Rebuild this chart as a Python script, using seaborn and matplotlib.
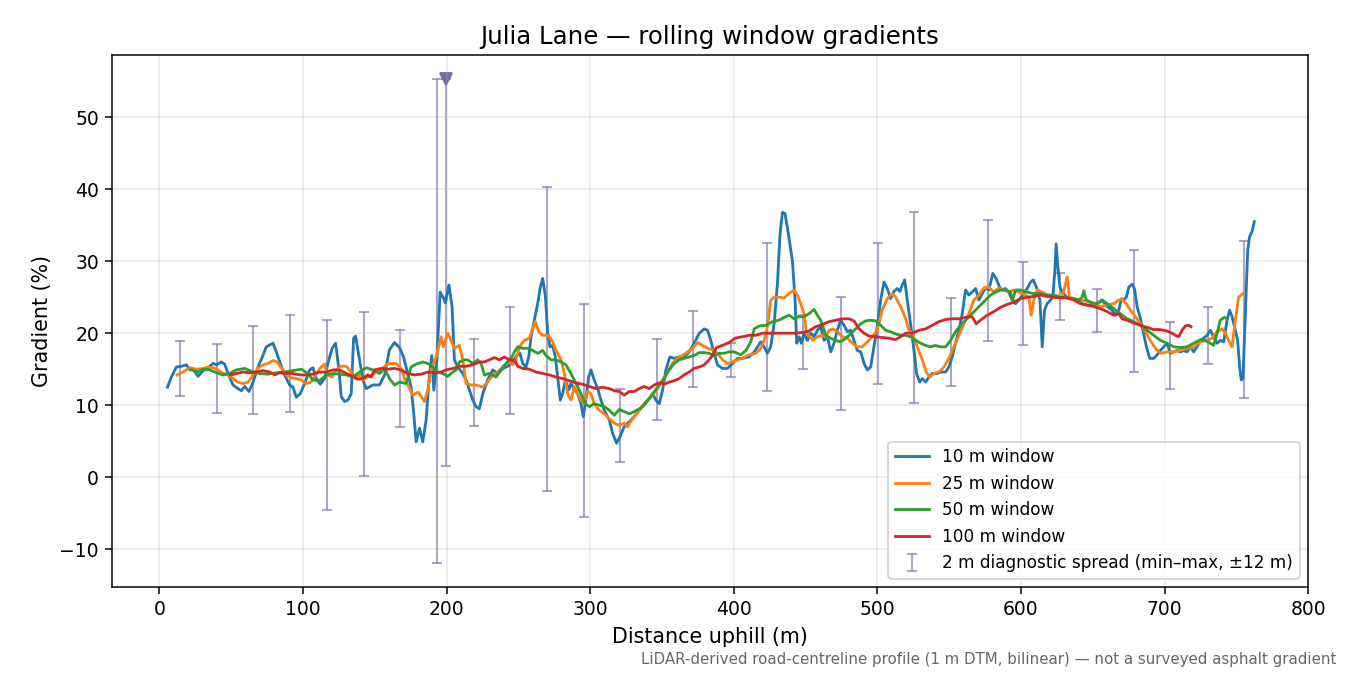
import numpy as np
import pandas as pd
import matplotlib
matplotlib.use('Agg')
import matplotlib.pyplot as plt
import seaborn as sns


# 10 m window gradient (%)
d10 = [5.6, 8.3, 11.8, 15.3, 18.8, 21.1, 23.4, 26.9, 30.4, 33.9, 37.3, 39.7, 43.1, 45.4, 47.8,
       51.2, 54.7, 57.0, 59.4, 62.4, 65.2, 68.6, 72.1, 74.4, 79.1, 81.4, 84.2, 87.2, 90.7, 93.0,
       95.3, 98.1, 101.1, 104.6, 106.9, 109.2, 112.0, 115.0, 117.3, 120.3, 122.7, 125.0, 126.6,
       128.9, 131.2, 133.6, 135.2, 136.6, 139.4, 141.7, 144.0, 148.6, 153.3, 156.8, 160.2, 163.7,
       167.2, 170.0, 172.3, 175.3, 176.9, 178.8, 181.1, 183.4, 185.7, 188.1, 189.7, 191.1, 193.2,
       195.5, 197.8, 199.2, 201.6, 203.8, 205.4, 207.8, 211.2, 213.6, 215.9, 218.2, 220.5, 222.8,
       225.2, 228.6, 232.1, 235.6, 239.1, 242.6, 246.0, 248.8, 251.1, 253.0, 255.3, 257.2, 258.8,
       261.1, 263.4, 265.3, 266.9, 268.8, 270.4, 272.0, 273.9, 275.7, 277.3, 279.2, 280.8, 282.7,
       285.0, 286.6, 288.9, 291.2, 293.6, 295.2, 297.0, 298.9, 300.5, 302.8, 305.2, 307.5, 309.8,
       313.3, 315.6, 318.4, 320.7, 323.7, 327.2, 330.7, 334.2, 337.6, 341.1, 343.4, 345.7, 348.1,
       350.4, 352.7, 355.5, 358.5, 362.0, 365.4, 368.9, 372.4, 375.9, 379.4, 381.7, 384.0, 386.3,
       388.6, 392.1, 395.6, 399.1, 402.6, 406.0, 410.7, 414.2, 416.5, 418.8, 421.1, 423.4, 425.7,
       428.1, 430.4, 432.2, 433.9, 435.7, 438.0, 440.8, 442.7, 443.8, 445.5, 447.1, 448.9, 451.3,
       453.6, 455.9, 458.2, 460.5, 462.9, 465.2, 467.5, 469.8, 472.1, 474.4, 476.8, 479.1, 481.4,
       483.7, 486.0, 488.4, 490.7, 493.0, 495.3, 497.6, 499.9, 502.3, 504.6, 506.9, 509.2, 511.5,
       513.9, 515.7, 517.3, 519.0, 520.8, 523.1, 525.5, 527.3, 529.4, 531.3, 533.6, 535.9, 538.2,
       541.7, 544.0, 547.5, 549.8, 552.1, 554.4, 556.8, 559.1, 561.4, 563.7, 566.0, 568.4, 570.7,
       573.0, 575.3, 577.6, 580.4, 582.7, 585.1, 586.9, 589.2, 591.5, 593.9, 596.2, 598.5, 602.0,
       604.3, 606.7, 608.5, 610.8, 613.2, 614.8, 616.4, 618.2, 620.6, 622.2, 623.6, 624.5, 625.7,
       627.1, 629.4, 632.2, 635.6, 639.1, 642.6, 646.1, 649.6, 653.0, 656.5, 660.0, 663.5, 665.8,
       668.1, 670.0, 671.6, 673.4, 675.1, 677.4, 679.0, 680.9, 683.2, 685.5, 687.4, 689.7, 692.5,
       694.8, 697.1, 699.4, 701.7, 704.0, 706.4, 708.7, 711.0, 713.3, 715.6, 718.0, 720.3, 722.6,
       724.9, 727.2, 729.6, 731.9, 734.2, 736.5, 738.8, 741.2, 743.5, 745.3, 747.0, 749.3, 750.9,
       752.3, 753.4, 754.6, 756.2, 757.9, 759.2, 760.9, 762.5]
g10 = [12.5, 13.9, 15.3, 15.4, 15.6, 14.9, 15.0, 14.0, 14.8, 15.2, 15.8, 15.6, 16.0, 15.7, 14.4,
       12.8, 12.3, 12.0, 12.6, 11.9, 13.2, 15.3, 16.9, 18.1, 18.6, 17.4, 15.8, 14.2, 12.8, 12.5,
       11.1, 11.6, 13.0, 14.9, 15.2, 13.7, 12.9, 13.7, 15.8, 17.9, 18.6, 14.9, 11.2,
       10.5, 10.7, 11.6, 19.3, 19.6, 16.3, 13.5, 12.3, 12.8, 12.8, 14.2, 17.7, 18.7,
       18.0, 16.7, 14.9, 12.5, 9.3, 4.9, 6.8, 4.9, 7.9, 14.4, 16.9, 12.1, 16.3,
       25.7, 24.9, 24.2, 26.7, 23.7, 16.3, 15.3, 14.4, 13.5, 12.1, 10.7, 9.8, 9.5,
       11.6, 13.5, 14.9, 14.4, 15.1, 15.4, 16.0, 16.9, 17.2, 15.8, 15.3, 16.7, 19.5,
       21.8, 24.1, 26.4, 27.6, 25.1, 20.0, 18.1, 18.3, 16.7, 13.9, 10.7, 11.6, 13.5,
       12.1, 13.0, 12.3, 11.6, 10.2, 8.4, 10.7, 13.9, 14.9, 13.5, 12.3, 10.7, 9.3,
       7.9, 6.1, 4.7, 5.6, 7.0, 7.7, 8.4, 9.3, 10.2, 10.9, 11.6, 10.7, 10.2,
       12.1, 14.9, 16.7, 16.5, 16.7, 16.7, 17.4, 18.6, 20.0, 20.6, 20.4, 19.0, 17.2,
       15.6, 15.1, 15.1, 15.8, 16.5, 16.5, 16.7, 17.4, 18.1, 18.8, 18.1, 17.2, 18.1,
       21.3, 26.9, 33.8, 36.8, 36.6, 33.8, 30.1, 24.6, 18.6, 19.5, 18.6, 20.0, 19.0,
       20.0, 19.5, 20.4, 20.9, 19.0, 19.5, 17.4, 18.6, 20.4, 21.8, 21.1, 20.2, 20.4,
       19.0, 17.6, 17.4, 15.8, 14.9, 15.3, 18.1, 20.9, 24.6, 27.1, 26.2, 24.8, 25.8,
       26.2, 25.8, 26.7, 27.4, 24.6, 21.3, 17.6, 14.4, 13.2, 13.7, 13.2, 13.9, 14.4,
       14.4, 14.6, 14.6, 15.3, 16.7, 18.6, 20.4, 22.7, 26.0, 25.3, 25.7, 26.2, 24.6,
       25.5, 26.3, 26.0, 28.3, 27.6, 26.4, 26.0, 26.2, 25.7, 24.6, 24.1, 24.6, 25.5,
       26.2, 27.1, 27.4, 26.4, 24.6, 18.1, 23.2, 24.1, 24.6, 25.0, 28.7, 32.4, 29.2,
       26.4, 25.5, 25.0, 24.8, 24.6, 24.1, 23.9, 23.9, 24.1, 24.6, 23.7, 23.2, 22.5,
       23.2, 24.8, 24.6, 25.0, 26.4, 26.8, 26.2, 23.7, 22.0, 19.9, 18.1, 16.5, 16.5,
       17.0, 17.6, 18.1, 18.6, 17.2, 17.4, 17.6, 17.4, 17.6, 17.4, 18.1, 17.4, 18.1,
       19.0, 19.3, 19.7, 20.4, 19.5, 18.6, 19.0, 18.8, 21.8, 23.2, 22.3, 20.4, 19.0,
       15.3, 13.5, 13.7, 22.3, 31.5, 33.4, 34.1, 35.5]

# 25 m window
d25 = [12.3, 16.5, 21.1, 25.7, 30.4, 33.9, 37.3, 40.8, 44.3, 47.8, 51.2, 54.7, 58.2, 61.7, 65.2,
       68.6, 72.1, 75.6, 79.1, 81.9, 84.9, 88.3, 91.8, 95.3, 98.8, 101.8, 104.6, 106.9, 109.2,
       112.7, 115.0, 117.3, 120.3, 123.1, 126.6, 130.1, 133.6, 136.6, 139.4, 141.7, 145.2, 148.2,
       151.0, 154.4, 157.9, 161.4, 164.9, 168.3, 170.7, 174.2, 176.5, 179.9, 182.3, 184.6, 186.9,
       189.2, 192.7, 196.2, 197.8, 200.8, 205.4, 208.9, 211.2, 213.6, 217.0, 220.5, 225.2, 228.6,
       232.1, 235.6, 239.1, 242.6, 246.0, 248.3, 250.7, 254.1, 257.6, 259.5, 261.8, 264.1, 266.9,
       270.4, 273.4, 276.2, 279.7, 282.0, 284.3, 286.6, 288.9, 291.2, 293.6, 295.9, 298.2, 300.5,
       302.8, 306.3, 309.8, 313.3, 316.8, 320.2, 323.7, 326.0, 329.5, 333.0, 336.5, 340.0, 343.4,
       346.9, 350.4, 353.9, 357.3, 360.8, 364.3, 367.8, 371.3, 374.7, 378.2, 381.7, 385.2, 388.6,
       392.1, 395.6, 399.1, 402.6, 406.0, 410.7, 415.3, 418.8, 421.1, 423.4, 425.7, 428.1, 431.5,
       435.0, 438.5, 442.0, 444.3, 446.6, 448.9, 450.6, 452.9, 455.2, 458.2, 461.2, 464.0, 466.3,
       469.1, 472.1, 475.6, 479.1, 482.6, 486.0, 489.5, 493.0, 496.5, 499.9, 503.4, 506.9, 510.4,
       512.7, 516.2, 519.7, 522.0, 524.3, 527.8, 531.3, 534.0, 536.6, 539.4, 542.9, 546.3, 549.8,
       553.3, 556.8, 560.2, 563.7, 567.2, 570.7, 574.2, 577.6, 581.1, 584.6, 588.1, 591.5, 595.0,
       598.5, 603.2, 605.5, 607.1, 609.0, 611.3, 614.8, 618.2, 621.7, 625.2, 628.7, 630.5, 632.2,
       633.8, 636.8, 641.4, 646.1, 650.7, 655.3, 660.0, 664.6, 668.1, 670.4, 673.4, 676.2, 679.7,
       683.2, 686.7, 690.1, 693.6, 697.1, 701.7, 706.4, 711.0, 715.6, 720.3, 724.9, 729.6, 733.0,
       736.5, 740.0, 742.3, 744.6, 747.0, 749.3, 751.6, 754.6]
g25 = [14.2, 14.6, 15.2, 15.0, 15.1, 15.3, 15.2, 14.9, 14.4, 14.2, 13.7, 13.2, 13.0, 13.2, 14.2,
       15.1, 15.6, 15.8, 16.2, 16.0, 15.2, 14.2, 13.8, 13.7, 13.5, 13.0, 13.1, 13.5, 14.4,
       15.3, 15.7, 14.2, 13.9, 14.9, 15.4, 15.4, 14.6, 13.7, 14.2, 13.5, 13.9, 14.2,
       14.6, 14.9, 15.6, 15.8, 15.8, 15.1, 13.7, 12.3, 11.4, 11.8, 11.2, 10.5, 12.1,
       14.9, 16.7, 19.5, 18.1, 20.0, 17.9, 18.3, 16.3, 13.0, 12.8, 12.8, 12.5, 13.2,
       14.2, 14.6, 15.3, 16.0, 15.6, 16.3, 18.1, 19.0, 19.3, 20.4, 21.6, 20.2, 19.7,
       19.7, 19.0, 17.6, 16.3, 14.4, 11.6, 10.7, 12.5, 11.6, 10.7, 10.2, 11.9, 11.6,
       10.2, 9.3, 8.8, 8.1, 7.5, 7.2, 7.5, 7.0, 8.1, 9.1, 9.8, 10.7, 11.4,
       12.3, 13.5, 14.6, 15.8, 16.5, 16.9, 17.4, 17.9, 18.7, 18.3, 17.9, 17.7, 17.2,
       16.3, 15.8, 16.0, 16.3, 16.5, 17.0, 17.2, 17.9, 19.0, 20.9, 24.6, 25.0, 25.0,
       24.9, 25.5, 26.0, 25.3, 24.1, 22.7, 20.0, 19.5, 19.0, 19.5, 19.7, 19.5, 20.4,
       20.6, 20.2, 19.5, 19.3, 18.6, 18.1, 18.1, 18.8, 19.5, 20.4, 23.2, 24.8, 25.5,
       25.0, 23.7, 22.0, 20.4, 20.0, 18.1, 16.3, 14.6, 13.9, 14.4, 14.6, 15.3, 16.5,
       18.1, 19.7, 21.3, 22.7, 24.6, 25.3, 26.3, 26.4, 25.7, 26.3, 26.0, 25.7, 26.0,
       25.7, 25.3, 25.0, 22.5, 24.6, 26.0, 25.7, 25.3, 25.0, 25.0, 25.0, 26.4, 27.8,
       25.0, 24.8, 24.6, 24.4, 24.1, 23.7, 23.9, 24.1, 24.6, 24.7, 24.1, 23.2, 22.3,
       21.3, 20.2, 19.0, 17.9, 17.2, 17.4, 17.4, 17.6, 17.9, 18.1, 18.8, 19.0, 19.3,
       20.2, 20.6, 20.0, 19.0, 18.1, 21.8, 25.0, 25.5]

# 50 m window
d50 = [22.3, 26.9, 30.4, 35.0, 39.7, 44.3, 48.9, 53.6, 59.4, 65.2, 69.8, 75.6, 81.4, 87.2, 93.0,
       98.8, 103.4, 106.9, 111.5, 116.2, 120.8, 125.4, 130.1, 134.7, 139.4, 144.0, 148.6, 153.3,
       156.8, 160.2, 163.7, 167.2, 171.8, 175.3, 178.8, 183.4, 186.9, 190.4, 193.9, 197.3, 200.8,
       204.3, 206.6, 208.9, 212.4, 214.7, 218.2, 221.7, 224.0, 226.3, 229.8, 234.4, 237.9, 241.4,
       244.9, 247.2, 249.5, 253.0, 256.5, 260.0, 263.4, 266.9, 269.2, 272.7, 276.2, 279.7, 283.1,
       286.6, 290.1, 293.6, 296.6, 299.4, 302.8, 306.3, 309.8, 313.3, 316.8, 320.2, 323.7, 327.2,
       330.7, 334.2, 337.6, 341.1, 344.6, 348.1, 351.5, 355.0, 358.5, 362.0, 365.4, 368.9, 372.4,
       375.9, 379.4, 382.8, 386.3, 389.8, 393.3, 396.8, 400.2, 404.9, 408.4, 411.8, 414.2, 417.6,
       422.3, 426.9, 431.5, 436.2, 438.5, 442.0, 445.5, 448.9, 452.4, 455.9, 458.2, 460.5, 462.2,
       464.0, 467.5, 471.0, 474.4, 477.9, 481.4, 484.9, 488.4, 491.8, 495.3, 498.8, 502.3, 505.7,
       509.2, 512.7, 516.2, 519.7, 523.1, 526.6, 530.1, 533.6, 537.1, 540.5, 544.0, 547.5, 551.0,
       554.4, 557.9, 561.4, 564.9, 568.4, 571.8, 575.3, 578.8, 582.3, 585.8, 589.2, 592.7, 594.3,
       596.2, 599.7, 604.3, 609.0, 613.6, 618.2, 622.9, 627.5, 632.2, 636.8, 640.3, 642.6, 643.8,
       645.4, 649.6, 653.0, 656.5, 660.0, 664.6, 669.3, 673.9, 678.5, 683.2, 687.8, 692.5, 697.1,
       701.7, 706.4, 711.0, 715.6, 720.3, 724.9, 728.4, 731.9, 734.2, 736.5, 738.8, 741.6, 743.5]
g50 = [14.9, 14.6, 15.0, 14.9, 14.5, 14.2, 14.4, 14.9, 15.1, 14.6, 14.4, 14.3, 14.5, 14.6, 14.8,
       15.0, 14.4, 13.5, 13.4, 14.2, 14.4, 14.3, 14.2, 13.9, 14.6, 15.2, 14.9, 14.4,
       15.1, 13.7, 12.8, 13.2, 13.0, 15.3, 15.7, 16.0, 15.8, 15.3, 14.6, 14.4, 14.0,
       14.6, 14.9, 16.0, 16.3, 16.3, 15.8, 16.3, 15.8, 14.2, 14.4, 13.9, 14.9, 15.8,
       16.5, 17.4, 18.1, 17.9, 17.9, 17.6, 17.2, 17.6, 16.9, 16.3, 16.3, 16.0, 15.6,
       14.4, 13.0, 11.6, 10.2, 9.8, 10.2, 10.0, 9.8, 9.3, 8.6, 9.4, 9.1, 8.8,
       9.1, 9.5, 10.0, 10.9, 11.9, 12.8, 13.7, 14.9, 15.8, 16.3, 16.5, 16.7, 16.9,
       17.3, 17.3, 17.2, 16.9, 17.2, 17.2, 17.4, 17.4, 17.0, 17.6, 18.8, 20.6, 21.0,
       21.1, 21.6, 21.8, 22.3, 22.5, 22.0, 22.3, 22.3, 22.7, 23.3, 22.5, 21.8, 20.9,
       19.7, 19.3, 19.0, 18.8, 19.3, 19.9, 20.6, 21.3, 21.7, 21.8, 21.7, 21.1, 20.4,
       20.2, 19.9, 19.7, 19.7, 19.5, 19.0, 18.6, 18.3, 18.1, 18.3, 18.1, 18.1, 19.0,
       20.2, 21.1, 21.8, 22.5, 23.2, 23.9, 24.6, 25.3, 25.7, 26.0, 26.0, 25.7, 24.6,
       26.0, 26.0, 25.7, 25.5, 25.5, 25.3, 25.3, 25.0, 24.9, 24.8, 24.6, 25.0, 25.9,
       24.6, 24.2, 24.1, 24.6, 24.1, 23.4, 22.7, 22.0, 21.6, 21.1, 20.4, 19.7, 19.0,
       18.6, 18.1, 18.0, 18.1, 18.6, 19.1, 19.0, 18.6, 18.3, 19.9, 21.8, 22.2, 22.0]

# 100 m window
d100 = [49.4, 53.6, 58.2, 62.8, 67.5, 72.1, 76.8, 80.2, 83.7, 88.3, 93.0, 97.6, 102.3, 106.9,
        111.5, 116.2, 120.8, 125.4, 130.1, 134.7, 138.2, 141.7, 145.2, 147.5, 149.8, 154.4,
        159.1, 163.7, 168.3, 172.9, 177.6, 182.3, 186.9, 191.5, 196.2, 199.7, 204.3, 208.9,
        213.6, 218.2, 222.8, 226.3, 229.8, 233.3, 236.7, 240.2, 243.7, 247.2, 249.5, 253.0,
        257.6, 262.3, 266.9, 271.5, 276.2, 280.8, 285.4, 290.1, 294.7, 299.4, 304.0, 308.6,
        313.3, 316.8, 320.2, 323.7, 327.2, 330.7, 334.2, 337.6, 341.1, 344.6, 348.1, 351.5,
        355.0, 358.5, 362.0, 365.4, 368.9, 372.4, 375.9, 379.4, 382.8, 385.2, 387.9, 392.1,
        396.8, 400.9, 406.0, 410.7, 415.3, 420.0, 424.6, 429.2, 433.9, 438.5, 443.1, 447.8,
        452.4, 457.0, 461.7, 466.3, 470.9, 475.6, 480.2, 483.7, 487.2, 490.7, 494.2, 498.8,
        503.4, 508.1, 512.7, 516.2, 519.7, 524.3, 529.0, 533.6, 538.2, 542.9, 547.5, 552.1,
        556.8, 561.4, 566.0, 568.8, 571.8, 576.5, 581.1, 585.8, 590.4, 595.0, 599.7, 604.3,
        609.0, 613.6, 618.2, 622.9, 627.5, 632.2, 636.8, 641.4, 646.1, 650.7, 655.3, 660.0,
        664.6, 668.1, 670.4, 673.9, 678.5, 683.2, 687.8, 692.5, 697.1, 701.7, 705.2, 707.5,
        709.8, 712.2, 714.5, 716.8, 718.4]
g100 = [14.2, 14.4, 14.6, 14.5, 14.6, 14.8, 14.6, 14.2, 14.5, 14.4, 14.4, 14.2, 14.2, 14.3,
        14.6, 14.6, 14.9, 14.9, 14.4, 14.0, 13.6, 13.7, 14.2, 13.9, 14.9, 15.1,
        15.0, 15.1, 14.9, 14.4, 14.2, 14.3, 14.6, 14.5, 14.6, 14.9, 15.1, 15.4,
        15.4, 15.6, 16.0, 16.0, 16.3, 16.6, 16.3, 16.7, 16.3, 16.3, 15.4, 15.1,
        15.0, 14.6, 14.4, 14.2, 13.9, 13.7, 13.4, 13.1, 12.9, 12.6, 12.3, 12.5,
        12.3, 12.0, 11.9, 11.4, 11.9, 11.9, 12.3, 12.6, 12.3, 12.8, 13.1, 12.9,
        13.2, 13.4, 13.7, 14.2, 14.6, 15.1, 15.3, 15.6, 16.3, 16.9, 18.0, 18.3,
        18.7, 19.3, 19.5, 19.7, 19.7, 20.0, 20.0, 20.0, 20.0, 20.0, 20.0, 20.1,
        20.3, 20.9, 21.2, 21.6, 21.8, 22.0, 22.0, 21.7, 20.6, 20.0, 19.6, 19.5,
        19.4, 19.3, 19.1, 19.5, 20.0, 20.0, 20.4, 20.6, 21.1, 21.6, 21.9, 22.0,
        22.0, 22.2, 22.3, 21.3, 21.8, 22.5, 23.0, 23.6, 24.0, 24.3, 24.8, 25.0,
        25.1, 25.3, 25.1, 25.0, 24.9, 24.9, 24.6, 24.1, 23.9, 23.7, 23.4, 23.0,
        22.5, 22.7, 22.0, 21.8, 21.4, 21.1, 20.8, 20.5, 20.5, 20.3, 20.0, 19.7,
        19.5, 20.4, 21.0, 21.1, 20.9]

# 2 m diagnostic spread: min / max within +-12 m
spread_x = [14.6, 40.3, 65.4, 91.1, 116.9, 142.6, 167.7, 193.4, 199.4, 218.9, 244.2, 269.9,
            295.4, 320.9, 346.4, 371.9, 397.9, 423.0, 448.5, 474.4, 500.4, 525.4, 551.0, 576.9,
            601.5, 627.5, 653.0, 679.0, 704.0, 730.0, 755.5]
spread_min = [11.3, 8.9, 8.8, 9.1, -4.6, 0.1, 7.0, -11.9, 1.5, 7.1, 8.8, -1.9, -5.5, 2.1, 8.0,
              12.5, 13.9, 11.9, 15.0, 9.3, 13.0, 10.3, 12.7, 18.9, 18.3, 21.8, 20.2, 14.6, 12.2,
              15.7, 11.0]
spread_max = [18.9, 18.5, 21.0, 22.5, 21.8, 22.9, 20.4, 55.3, 55.3, 19.2, 23.7, 40.3, 24.0, 12.2,
              19.2, 23.1, 18.6, 32.5, 22.5, 25.0, 32.5, 36.8, 24.9, 35.7, 29.9, 28.3, 26.1, 31.5,
              21.6, 23.7, 32.8]

# steepest 2 m point
peak_x = 199.4
peak_y = 55.3

windows = ['10 m window', '25 m window', '50 m window', '100 m window']
colors = ['#1f77b4', '#ff7f0e', '#2ca02c', '#d62728']
series = [(d10, g10), (d25, g25), (d50, g50), (d100, g100)]

fig, ax = plt.subplots(figsize=(10, 5), dpi=135)

# min-max spread bars (behind the lines)
lo = np.array(spread_min)
hi = np.array(spread_max)
mid = (lo + hi) / 2
ax.errorbar(spread_x, mid, yerr=[mid - lo, hi - mid], fmt='none', ecolor='#7a6aa8',
            alpha=0.6, elinewidth=1.1, capsize=2.5, capthick=1.1, zorder=1,
            label='2 m diagnostic spread (min\u2013max, \u00b112 m)')
ax.plot([peak_x], [peak_y], marker='v', color='#7a6aa8', markersize=6.5, linestyle='none',
        zorder=1)

for (xs, ys), name, col in zip(series, windows, colors):
    df = pd.DataFrame({'distance': xs, 'gradient': ys})
    sns.lineplot(data=df, x='distance', y='gradient', color=col, label=name,
                 linewidth=1.5, ax=ax, sort=True, zorder=2)

ax.set_xlim(-33, 800)
ax.set_ylim(-15.3, 58.6)
ax.set_xlabel('Distance uphill (m)', fontsize=11)
ax.set_ylabel('Gradient (%)', fontsize=11)
ax.set_title('Julia Lane \u2014 rolling window gradients', fontsize=13)
ax.grid(True, alpha=0.3)

handles, labels = ax.get_legend_handles_labels()
order = [labels.index(w) for w in windows] + [labels.index(l) for l in labels if l not in windows]
ax.legend([handles[i] for i in order], [labels[i] for i in order], loc='lower right', fontsize=9)

fig.subplots_adjust(left=0.083, right=0.969, top=0.918, bottom=0.13)
fig.text(0.99, 0.012,
         'LiDAR-derived road-centreline profile (1 m DTM, bilinear) \u2014 not a surveyed asphalt gradient',
         ha='right', va='bottom', fontsize=8, color='#666666')

plt.savefig('out.png', dpi=135)
